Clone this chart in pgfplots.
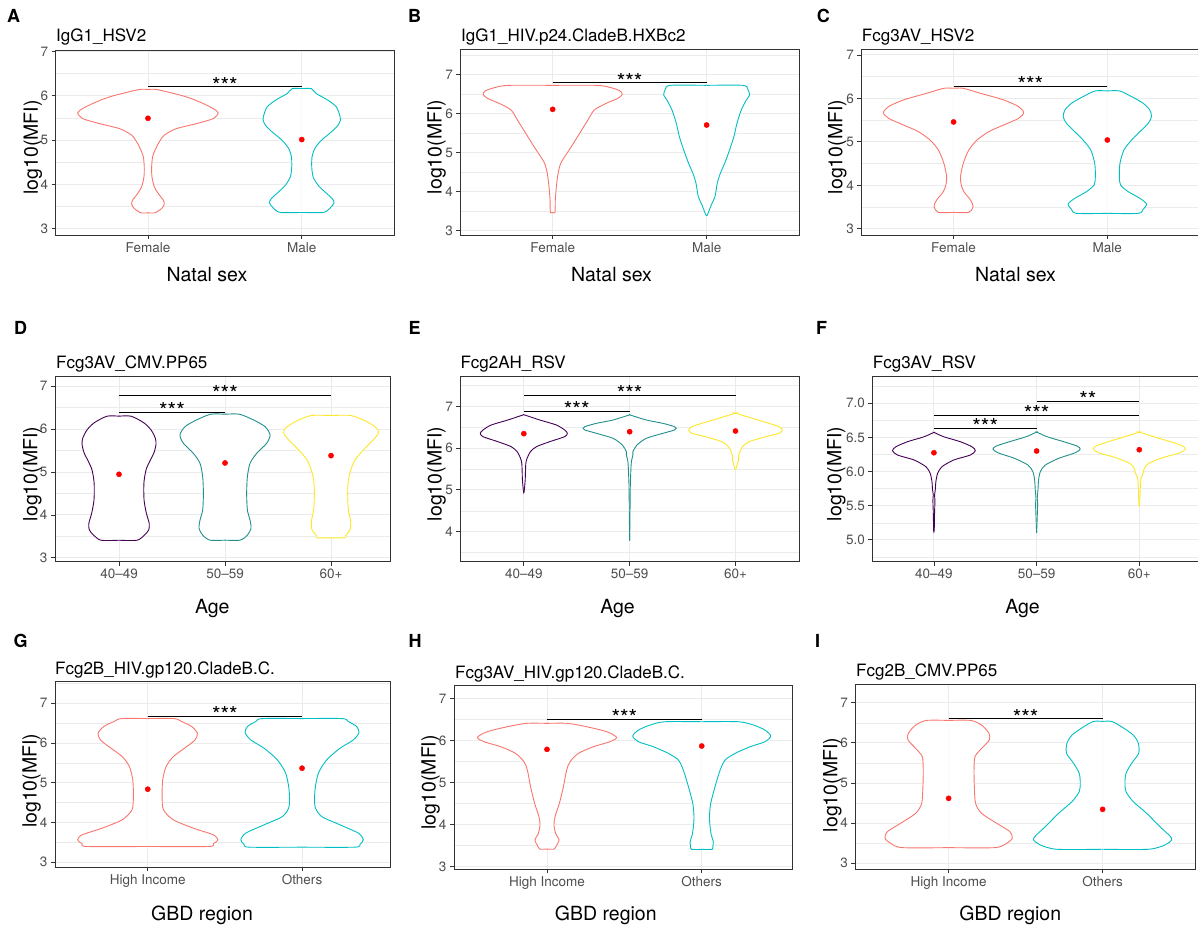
\documentclass[border=0pt]{standalone}
\usepackage{fontspec}
\setmainfont{TeX Gyre Heros}
\usepackage{pgfplots}
\usepackage{pgfplotstable}
\pgfplotsset{compat=1.18}

\definecolor{cF}{HTML}{F8766D}
\definecolor{cM}{HTML}{00BFC4}
\definecolor{v1}{HTML}{440154}
\definecolor{v2}{HTML}{21908C}
\definecolor{v3}{HTML}{FDE725}
\definecolor{g20}{HTML}{333333}
\definecolor{g30}{HTML}{4D4D4D}
\definecolor{g92}{HTML}{EBEBEB}

\newcommand{\fTick}{\fontsize{13.5}{15}\selectfont}
\newcommand{\fTitle}{\fontsize{17}{19}\selectfont}
\newcommand{\fLab}{\fontsize{19.5}{22}\selectfont}
\newcommand{\fTag}{\fontsize{18}{20}\selectfont\bfseries}
\newcommand{\fStar}{\fontsize{22}{24}\selectfont}

% violin outlines: y value and half width (category units)
\pgfplotstableread{
y w
6.137 0
6.137 0.061
5.972 0.251
5.822 0.360
5.709 0.425
5.612 0.457
5.484 0.425
5.371 0.316
5.259 0.186
5.146 0.121
5.071 0.095
4.921 0.067
4.771 0.046
4.621 0.030
4.396 0.024
4.171 0.026
3.946 0.041
3.795 0.067
3.645 0.100
3.555 0.106
3.458 0.089
3.360 0.046
3.360 0
}\tAa
\pgfplotstableread{
y w
6.159 0
6.159 0.062
6.047 0.095
5.897 0.171
5.747 0.225
5.559 0.247
5.447 0.251
5.334 0.236
5.184 0.193
4.996 0.128
4.809 0.085
4.621 0.067
4.396 0.065
4.171 0.074
3.983 0.106
3.833 0.150
3.683 0.197
3.585 0.210
3.458 0.182
3.368 0.139
3.368 0
}\tAb
\pgfplotstableread{
y w
6.726 0
6.726 0.284
6.675 0.370
6.590 0.435
6.496 0.452
6.393 0.424
6.265 0.348
6.094 0.270
5.838 0.229
5.496 0.175
5.154 0.121
4.897 0.078
4.726 0.052
4.470 0.035
4.128 0.024
3.786 0.017
3.470 0.015
3.470 0
}\tBa
\pgfplotstableread{
y w
6.726 0
6.726 0.236
6.624 0.268
6.479 0.279
6.350 0.258
6.094 0.225
5.752 0.197
5.410 0.177
5.068 0.149
4.726 0.117
4.470 0.089
4.214 0.069
3.872 0.054
3.658 0.030
3.402 0.005
3.402 0
}\tBb
\pgfplotstableread{
y w
6.232 0
6.232 0.063
6.117 0.175
5.964 0.326
5.810 0.423
5.672 0.456
5.541 0.423
5.388 0.326
5.234 0.229
5.042 0.153
4.812 0.099
4.505 0.063
4.198 0.045
4.006 0.050
3.852 0.067
3.660 0.110
3.507 0.127
3.376 0.099
3.376 0
}\tCa
\pgfplotstableread{
y w
6.171 0
6.171 0.080
6.040 0.158
5.887 0.233
5.733 0.276
5.580 0.287
5.426 0.266
5.234 0.212
5.042 0.158
4.812 0.108
4.505 0.082
4.198 0.078
4.006 0.086
3.852 0.136
3.699 0.212
3.568 0.255
3.445 0.233
3.353 0.201
3.353 0
}\tCb
\pgfplotstableread{
y w
6.30 0
6.30 0.113
6.15 0.232
5.98 0.302
5.79 0.342
5.65 0.349
5.45 0.330
5.25 0.290
5.05 0.255
4.75 0.235
4.35 0.236
4.04 0.258
3.80 0.285
3.65 0.280
3.53 0.240
3.41 0.170
3.41 0
}\tDa
\pgfplotstableread{
y w
6.346 0
6.346 0.135
6.214 0.267
6.058 0.377
5.864 0.425
5.669 0.393
5.436 0.299
5.202 0.236
4.891 0.211
4.502 0.204
4.113 0.211
3.879 0.236
3.685 0.245
3.529 0.211
3.412 0.142
3.412 0
}\tDb
\pgfplotstableread{
y w
6.315 0
6.315 0.189
6.175 0.336
6.019 0.431
5.903 0.447
5.747 0.399
5.514 0.305
5.280 0.226
5.047 0.186
4.813 0.164
4.502 0.157
4.113 0.164
3.840 0.186
3.646 0.179
3.529 0.140
3.467 0.130
3.467 0
}\tDc
\pgfplotstableread{
y w
6.800 0
6.792 0.010
6.673 0.151
6.553 0.308
6.433 0.386
6.354 0.411
6.274 0.386
6.154 0.245
6.034 0.119
5.915 0.063
5.755 0.031
5.635 0.019
5.476 0.016
5.236 0.013
4.957 0.003
4.957 0
}\tEa
\pgfplotstableread{
y w
6.800 0
6.792 0.006
6.673 0.157
6.593 0.314
6.513 0.424
6.473 0.440
6.433 0.424
6.354 0.314
6.234 0.157
6.074 0.069
5.915 0.031
5.835 0.031
5.715 0.019
5.555 0.013
5.077 0.006
4.358 0.003
3.784 0
}\tEb
\pgfplotstableread{
y w
6.832 0
6.832 0.006
6.713 0.160
6.593 0.317
6.513 0.411
6.433 0.443
6.354 0.411
6.274 0.286
6.154 0.129
6.034 0.066
5.915 0.041
5.795 0.028
5.715 0.028
5.595 0.016
5.492 0.003
5.492 0
}\tEc
\pgfplotstableread{
y w
6.570 0
6.570 0.006
6.511 0.094
6.438 0.256
6.364 0.370
6.306 0.403
6.242 0.354
6.169 0.192
6.071 0.078
5.973 0.036
5.851 0.019
5.729 0.013
5.655 0.006
5.582 0.010
5.386 0.006
5.142 0.003
5.142 0
}\tFa
\pgfplotstableread{
y w
6.575 0
6.575 0.006
6.511 0.101
6.438 0.263
6.374 0.393
6.330 0.425
6.276 0.377
6.193 0.214
6.095 0.084
5.998 0.036
5.875 0.019
5.729 0.013
5.606 0.006
5.533 0.010
5.337 0.006
5.103 0
}\tFb
\pgfplotstableread{
y w
6.575 0
6.575 0.006
6.511 0.140
6.438 0.302
6.379 0.416
6.330 0.448
6.276 0.399
6.208 0.237
6.120 0.091
6.046 0.049
5.973 0.036
5.900 0.016
5.778 0.010
5.523 0.003
5.523 0
}\tFc
\pgfplotstableread{
y w
6.614 0
6.614 0.170
6.539 0.220
6.413 0.285
6.245 0.322
6.078 0.307
5.910 0.253
5.658 0.166
5.407 0.119
5.071 0.097
4.652 0.093
4.317 0.102
4.065 0.166
3.855 0.296
3.688 0.425
3.562 0.454
3.461 0.425
3.394 0.393
3.394 0
}\tGa
\pgfplotstableread{
y w
6.614 0
6.614 0.260
6.539 0.300
6.413 0.354
6.262 0.369
6.078 0.333
5.868 0.246
5.574 0.160
5.239 0.106
4.820 0.084
4.400 0.084
4.149 0.127
3.939 0.246
3.730 0.365
3.562 0.397
3.453 0.376
3.377 0.343
3.377 0
}\tGb
\pgfplotstableread{
y w
6.412 0
6.412 0.134
6.332 0.256
6.213 0.386
6.078 0.450
5.974 0.407
5.855 0.300
5.696 0.203
5.497 0.149
5.298 0.127
4.901 0.106
4.503 0.080
4.185 0.052
3.986 0.045
3.787 0.056
3.628 0.078
3.509 0.063
3.413 0.047
3.413 0
}\tHa
\pgfplotstableread{
y w
6.451 0
6.451 0.237
6.372 0.334
6.252 0.409
6.109 0.446
5.974 0.409
5.855 0.313
5.696 0.216
5.537 0.151
5.298 0.119
4.901 0.086
4.503 0.058
4.185 0.050
3.946 0.054
3.748 0.062
3.588 0.075
3.485 0.072
3.406 0.067
3.406 0
}\tHb
\pgfplotstableread{
y w
6.560 0
6.560 0.143
6.444 0.214
6.237 0.262
6.071 0.264
5.863 0.214
5.656 0.171
5.320 0.165
4.909 0.167
4.494 0.175
4.245 0.214
3.996 0.312
3.788 0.398
3.622 0.413
3.498 0.377
3.390 0.301
3.390 0
}\tIa
\pgfplotstableread{
y w
6.535 0
6.535 0.058
6.402 0.123
6.195 0.199
5.988 0.232
5.739 0.234
5.490 0.188
5.241 0.152
4.992 0.145
4.784 0.152
4.535 0.199
4.245 0.286
3.913 0.372
3.680 0.437
3.581 0.448
3.456 0.405
3.349 0.297
3.349 0
}\tIb

% #1 table, #2 centre, #3 colour
\newcommand{\violin}[3]{%
  \addplot[draw=none, fill=white, smooth, tension=0.45] table[x expr=#2+\thisrow{w}, y=y]{#1} -- cycle;
  \addplot[draw=none, fill=white, smooth, tension=0.45] table[x expr=#2-\thisrow{w}, y=y]{#1} -- cycle;
  \addplot[#3, line width=0.9pt, smooth, tension=0.45] table[x expr=#2+\thisrow{w}, y=y]{#1};
  \addplot[#3, line width=0.9pt, smooth, tension=0.45] table[x expr=#2-\thisrow{w}, y=y]{#1};
}
% #1 x1, #2 x2, #3 mid, #4 y, #5 stars
\newcommand{\sig}[5]{%
  \addplot[black, line width=0.7pt] coordinates {(#1,#4) (#2,#4)};
  \node[font=\fStar, anchor=base, yshift=-6.5pt, inner sep=0pt] at (axis cs:#3,#4) {#5};
}

\pgfplotsset{
  vio/.style={
    scale only axis, anchor=south west,
    axis line style={draw=g20, line width=0.8pt},
    ytick={2,...,8},
    minor y tick num=1,
    xmajorgrids, ymajorgrids, yminorgrids,
    major grid style={draw=g92, line width=0.9pt},
    minor grid style={draw=g92, line width=0.45pt},
    tick align=outside, tick pos=left,
    major tick length=4pt, minor tick length=0pt,
    tick style={draw=g20, line width=0.8pt},
    tick label style={font=\fTick, text=g30},
    /pgf/number format/assume math mode=true,
  },
  two/.style={vio, xmin=0.4, xmax=2.6, xtick={1,2}},
  three/.style={vio, xmin=0.4, xmax=3.6, xtick={1,2,3}, xticklabels={40--49,50--59,60+}},
  meanpt/.style={only marks, mark=*, mark size=2.6pt, mark options={draw=red, fill=red}},
}

\begin{document}
\begin{tikzpicture}
\path[use as bounding box] (0pt,0pt) rectangle (1198pt,926pt);

% ---- A
\begin{axis}[two, at={(55.7pt,691pt)}, width=338.3pt, height=185pt,
  ymin=2.86, ymax=7.03, xticklabels={Female,Male}]
\violin{\tAa}{1}{cF}
\violin{\tAb}{2}{cM}
\addplot[meanpt] coordinates {(1,5.49) (2,5.011)};
\sig{1}{2}{1.5}{6.205}{***}
\end{axis}

% ---- B
\begin{axis}[two, at={(460.3pt,691pt)}, width=338.7pt, height=185.7pt,
  ymin=2.89, ymax=7.65, xticklabels={Female,Male}]
\violin{\tBa}{1}{cF}
\violin{\tBb}{2}{cM}
\addplot[meanpt] coordinates {(1,6.111) (2,5.709)};
\sig{1}{2}{1.5}{6.795}{***}
\end{axis}

% ---- C
\begin{axis}[two, at={(861.3pt,691pt)}, width=338.3pt, height=185.7pt,
  ymin=2.855, ymax=7.13, xticklabels={Female,Male}]
\violin{\tCa}{1}{cF}
\violin{\tCb}{2}{cM}
\addplot[meanpt] coordinates {(1,5.457) (2,5.042)};
\sig{1}{2}{1.5}{6.286}{***}
\end{axis}

% ---- D
\begin{axis}[three, at={(55pt,364.3pt)}, width=335.7pt, height=185pt,
  xmin=0.396, xmax=3.563, ymin=2.91, ymax=7.22]
\violin{\tDa}{1}{v1}
\violin{\tDb}{2}{v2}
\violin{\tDc}{3}{v3}
\addplot[meanpt] coordinates {(1,4.946) (2,5.210) (3,5.381)};
\sig{1}{2}{1.5}{6.401}{***}
\sig{1}{3}{2}{6.790}{***}
\end{axis}

% ---- E
\begin{axis}[three, at={(460.3pt,364.3pt)}, width=338.7pt, height=185pt,
  ymin=3.28, ymax=7.71]
\violin{\tEa}{1}{v1}
\violin{\tEb}{2}{v2}
\violin{\tEc}{3}{v3}
\addplot[meanpt] coordinates {(1,6.346) (2,6.393) (3,6.409)};
\sig{1}{2}{1.5}{6.880}{***}
\sig{1}{3}{2}{7.271}{***}
\end{axis}

% ---- F
\begin{axis}[three, at={(872.3pt,364.3pt)}, width=328.6pt, height=185.7pt,
  ymin=4.68, ymax=7.40, ytick={4.5,5,...,7.5},
  yticklabel style={/pgf/number format/.cd, fixed, fixed zerofill, precision=1}]
\violin{\tFa}{1}{v1}
\violin{\tFb}{2}{v2}
\violin{\tFc}{3}{v3}
\addplot[meanpt] coordinates {(1,6.276) (2,6.301) (3,6.320)};
\sig{1}{2}{1.5}{6.633}{***}
\sig{1}{3}{2}{6.829}{***}
\sig{2}{3}{2.5}{7.029}{**}
\end{axis}

% ---- G
\begin{axis}[two, at={(55pt,58.7pt)}, width=335pt, height=186.3pt,
  xmin=0.399, xmax=2.570, ymin=2.87, ymax=7.56, xticklabels={High Income,Others}]
\violin{\tGa}{1}{cF}
\violin{\tGb}{2}{cM}
\addplot[meanpt] coordinates {(1,4.836) (2,5.365)};
\sig{1}{2}{1.5}{6.681}{***}
\end{axis}

% ---- H
\begin{axis}[two, at={(454pt,56.7pt)}, width=338.7pt, height=184pt,
  xmin=0.399, xmax=2.588, ymin=2.93, ymax=7.32, xticklabels={High Income,Others}]
\violin{\tHa}{1}{cF}
\violin{\tHb}{2}{cM}
\addplot[meanpt] coordinates {(1,5.791) (2,5.871)};
\sig{1}{2}{1.5}{6.507}{***}
\end{axis}

% ---- I
\begin{axis}[two, at={(855.3pt,56.7pt)}, width=339.7pt, height=184.6pt,
  xmin=0.394, xmax=2.6, ymin=2.85, ymax=7.45, xticklabels={High Income,Others}]
\violin{\tIa}{1}{cF}
\violin{\tIb}{2}{cM}
\addplot[meanpt] coordinates {(1,4.618) (2,4.344)};
\sig{1}{2}{1.5}{6.602}{***}
\end{axis}

% panel tags
\node[font=\fTag, anchor=base west, inner sep=0pt] at (7pt,903.3pt) {A};
\node[font=\fTag, anchor=base west, inner sep=0pt] at (408pt,903.3pt) {B};
\node[font=\fTag, anchor=base west, inner sep=0pt] at (816.7pt,903.3pt) {C};
\node[font=\fTag, anchor=base west, inner sep=0pt] at (14pt,591pt) {D};
\node[font=\fTag, anchor=base west, inner sep=0pt] at (408.3pt,591pt) {E};
\node[font=\fTag, anchor=base west, inner sep=0pt] at (816pt,591pt) {F};
\node[font=\fTag, anchor=base west, inner sep=0pt] at (13.3pt,278.7pt) {G};
\node[font=\fTag, anchor=base west, inner sep=0pt] at (408.3pt,278.7pt) {H};
\node[font=\fTag, anchor=base west, inner sep=0pt] at (815pt,278.7pt) {I};

% panel titles
\node[font=\fTitle, anchor=base west, inner sep=0pt] at (56pt,884.3pt) {IgG1\_HSV2};
\node[font=\fTitle, anchor=base west, inner sep=0pt] at (461pt,884.3pt) {IgG1\_HIV.p24.CladeB.HXBc2};
\node[font=\fTitle, anchor=base west, inner sep=0pt] at (861.7pt,884.3pt) {Fcg3AV\_HSV2};
\node[font=\fTitle, anchor=base west, inner sep=0pt] at (56pt,557.7pt) {Fcg3AV\_CMV.PP65};
\node[font=\fTitle, anchor=base west, inner sep=0pt] at (460.3pt,557.7pt) {Fcg2AH\_RSV};
\node[font=\fTitle, anchor=base west, inner sep=0pt] at (872.7pt,557.7pt) {Fcg3AV\_RSV};
\node[font=\fTitle, anchor=base west, inner sep=0pt] at (55pt,251.7pt) {Fcg2B\_HIV.gp120.CladeB.C.};
\node[font=\fTitle, anchor=base west, inner sep=0pt] at (455pt,247.7pt) {Fcg3AV\_HIV.gp120.CladeB.C.};
\node[font=\fTitle, anchor=base west, inner sep=0pt] at (856pt,249.3pt) {Fcg2B\_CMV.PP65};

% y labels
\foreach \xx/\yy in {33/778.5, 436.7/779, 837.3/779, 32.5/452, 436.7/452, 836.3/452, 31.7/145.2, 430.7/143.7, 832.3/141}
  \node[font=\fLab, rotate=90, inner sep=0pt] at (\xx pt,\yy pt) {log10(MFI)};

% x labels
\node[font=\fLab, anchor=base, inner sep=0pt] at (207pt,644.3pt) {Natal sex};
\node[font=\fLab, anchor=base, inner sep=0pt] at (611.5pt,644.3pt) {Natal sex};
\node[font=\fLab, anchor=base, inner sep=0pt] at (1015.5pt,644.3pt) {Natal sex};
\node[font=\fLab, anchor=base, inner sep=0pt] at (212.3pt,312.7pt) {Age};
\node[font=\fLab, anchor=base, inner sep=0pt] at (617.5pt,312.7pt) {Age};
\node[font=\fLab, anchor=base, inner sep=0pt] at (1022.5pt,312.7pt) {Age};
\node[font=\fLab, anchor=base, inner sep=0pt] at (202pt,6pt) {GBD region};
\node[font=\fLab, anchor=base, inner sep=0pt] at (605.8pt,5.3pt) {GBD region};
\node[font=\fLab, anchor=base, inner sep=0pt] at (1010.3pt,6pt) {GBD region};
\end{tikzpicture}
\end{document}
